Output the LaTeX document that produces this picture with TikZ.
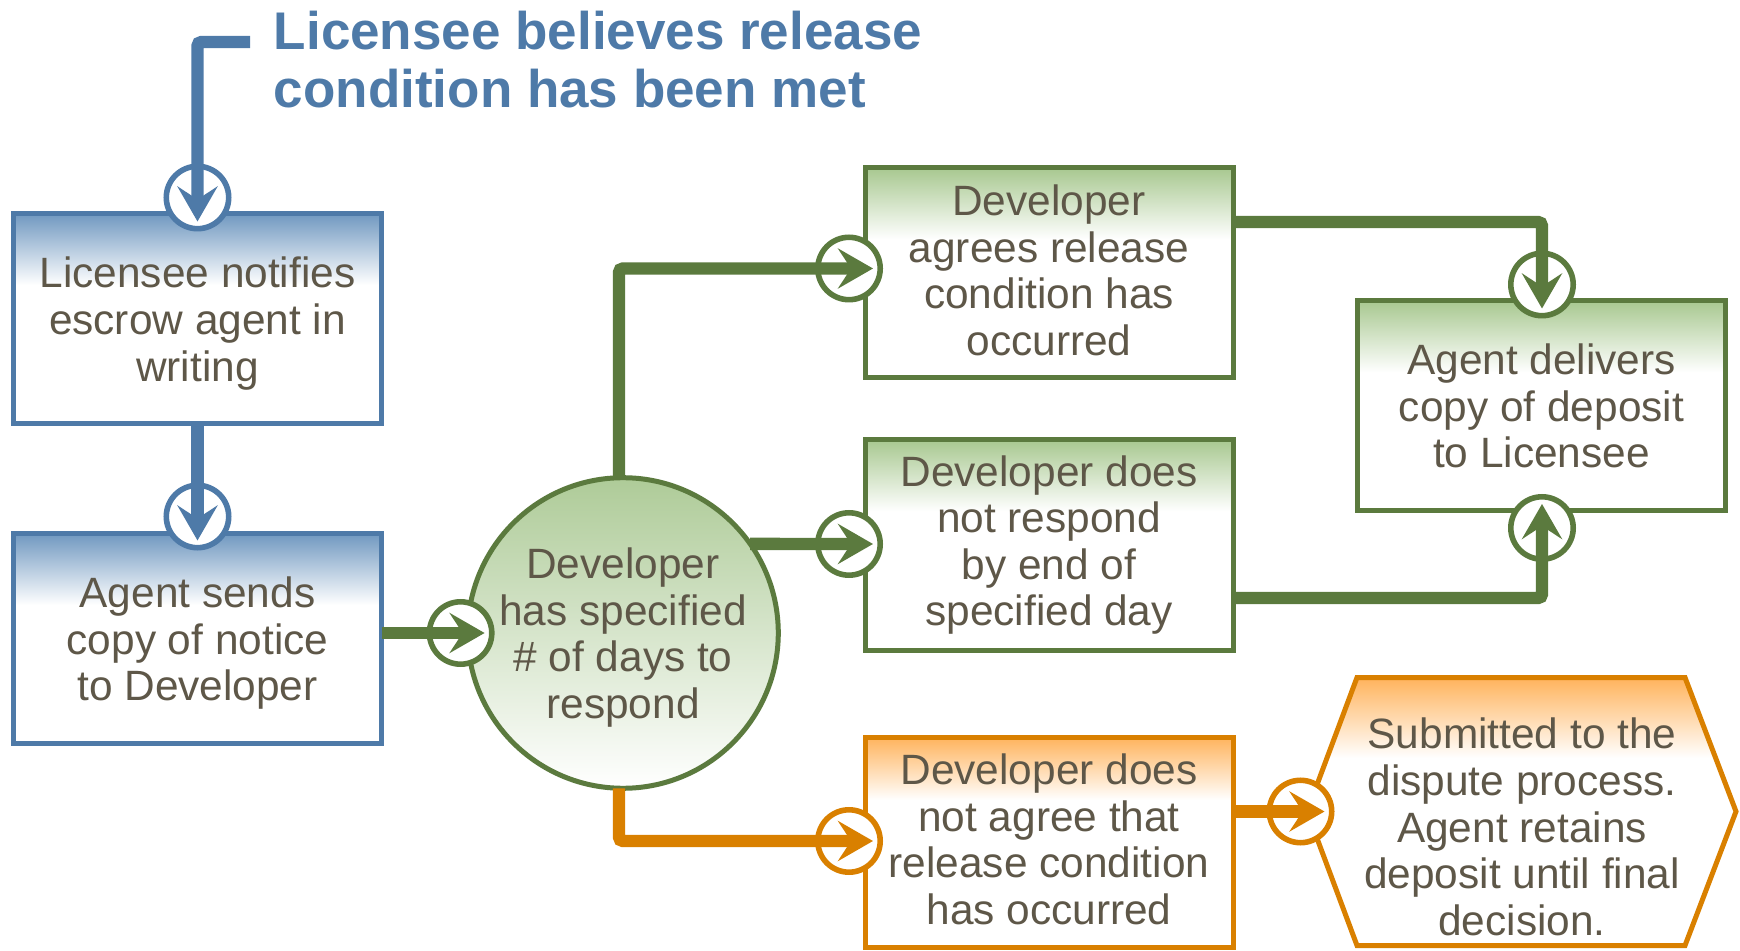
\documentclass[tikz,border=0pt]{standalone}
\usepackage{fontspec}
\setmainfont{Liberation Sans}
\usetikzlibrary{arrows.meta}

% palette
\definecolor{blueline}{HTML}{4E7AA8}
\definecolor{bluetop}{HTML}{7098C0}
\definecolor{greenline}{HTML}{5B7A3E}
\definecolor{greentop}{HTML}{A8C890}
\definecolor{circletop}{HTML}{AECB98}
\definecolor{orangeline}{HTML}{D98000}
\definecolor{orangetop}{HTML}{FFB35C}
\definecolor{bodytext}{HTML}{5E5748}

% top-down fades (the path box maps onto 25bp..75bp)
\pgfdeclareverticalshading{bluefade}{100bp}{color(0bp)=(white); color(58bp)=(white); color(75bp)=(bluetop); color(100bp)=(bluetop)}
\pgfdeclareverticalshading{greenfade}{100bp}{color(0bp)=(white); color(58bp)=(white); color(75bp)=(greentop); color(100bp)=(greentop)}
\pgfdeclareverticalshading{orangefade}{100bp}{color(0bp)=(white); color(60bp)=(white); color(75bp)=(orangetop); color(100bp)=(orangetop)}
\pgfdeclareverticalshading{roundfade}{100bp}{color(0bp)=(white); color(25bp)=(white); color(75bp)=(circletop); color(100bp)=(circletop)}

\newcommand\boxfont{\fontsize{21.2pt}{23.3pt}\selectfont}
\newcommand\headfont{\fontsize{26.5pt}{29pt}\selectfont\bfseries}
% invisible struts that nudge a centred text block down or up
\newcommand\padhigh[1]{\rule{0pt}{#1}}
\newcommand\paddeep[1]{\rule[-#1]{0pt}{#1}}

\tikzset{
  stepbox/.style={rectangle, line width=2.5pt, minimum width=184pt, minimum height=105pt,
    inner sep=0pt, outer sep=0pt, align=center, text=bodytext, font=\boxfont, shade},
  bluebox/.style={stepbox, draw=blueline, shading=bluefade},
  greenbox/.style={stepbox, draw=greenline, shading=greenfade},
  orangebox/.style={stepbox, draw=orangeline, shading=orangefade},
  ring/.style={circle, line width=2.8pt, fill=white, minimum size=31.2pt,
    inner sep=0pt, outer sep=0pt},
  link/.style={line width=6.2pt, rounded corners=2pt, shorten >=3.6pt,
    -{Stealth[length=17.5pt,width=20pt,inset=6.5pt]}},
}

\begin{document}
\begin{tikzpicture}[x=0.5pt, y=-0.5pt]
\useasboundingbox (0,0) rectangle (1740,951);

% heading
\node[anchor=north west, inner sep=0pt, align=left, text=blueline, font=\headfont]
  (head) at (273.5,11) {Licensee believes release\\condition has been met};
\coordinate (start) at (250,42);

% process boxes
\node[bluebox] (notify) at (197.5,318.5) {\padhigh{20.5pt}Licensee notifies\\escrow agent in\\writing};
\node[bluebox] (send) at (197.5,638.5) {\padhigh{20pt}Agent sends\\copy of notice\\to Developer};
\node[greenbox] (agree) at (1049,273) {Developer\\agrees release\\condition has\\occurred\paddeep{3pt}};
\node[greenbox] (noresp) at (1049,545) {Developer does\\not respond\\by end of\\specified day};
\node[orangebox] (refuse) at (1049,842) {Developer does\\not agree that\\release condition\\has occurred\paddeep{3pt}};
\node[greenbox] (deliver) at (1541.5,406) {Agent delivers\\copy of deposit\\to Licensee};

% decision circle
\node[circle, draw=greenline, line width=2.5pt, minimum size=152.5pt, inner sep=0pt,
  outer sep=0pt, shade, shading=roundfade, align=center, text=bodytext, font=\boxfont]
  (dev) at (623,633) {\padhigh{20pt}Developer\\has specified\\\# of days to\\respond};

% dispute hexagon
\path[draw=orangeline, line width=2.5pt, shade, shading=orangefade]
  (1307,811.5) -- (1357,677.5) -- (1685,677.5) -- (1736,811.5)
  -- (1685,945.5) -- (1357,945.5) -- cycle;
\node[inner sep=0pt, align=center, text=bodytext, font=\boxfont] (dispute) at (1522,827)
  {Submitted to the\\dispute process.\\Agent retains\\deposit until final\\decision.};

% entry rings
\node[ring, draw=blueline] (c1) at (197.5,197.5) {};
\node[ring, draw=blueline] (c2) at (197.5,516.5) {};
\node[ring, draw=greenline] (c3) at (460.6,633) {};
\node[ring, draw=greenline] (c4) at (849,268.5) {};
\node[ring, draw=greenline] (c5) at (849,544) {};
\node[ring, draw=orangeline] (c6) at (849,841) {};
\node[ring, draw=orangeline] (c7) at (1300.5,811.5) {};
\node[ring, draw=greenline] (c8) at (1542,284.5) {};
\node[ring, draw=greenline] (c9) at (1542,528) {};

% connectors
\draw[link, blueline] (start) -| (c1.south);
\draw[link, blueline] (notify.south) -- (c2.south);
\draw[link, greenline] (c3 -| send.east) -- (c3.east);
\draw[link, greenline] ([xshift=-2pt]dev.north) |- (c4.east);
\draw[link, greenline] (dev.35.7) -- (c5.east);
\draw[link, orangeline] ([xshift=-2pt]dev.south) |- (c6.east);
\draw[link, orangeline] (c7 -| refuse.east) -- (c7.east);
\draw[link, greenline] ([yshift=25.5pt]agree.east) -| (c8.south);
\draw[link, greenline] ([yshift=-26.5pt]noresp.east) -| (c9.north);
\end{tikzpicture}
\end{document}
